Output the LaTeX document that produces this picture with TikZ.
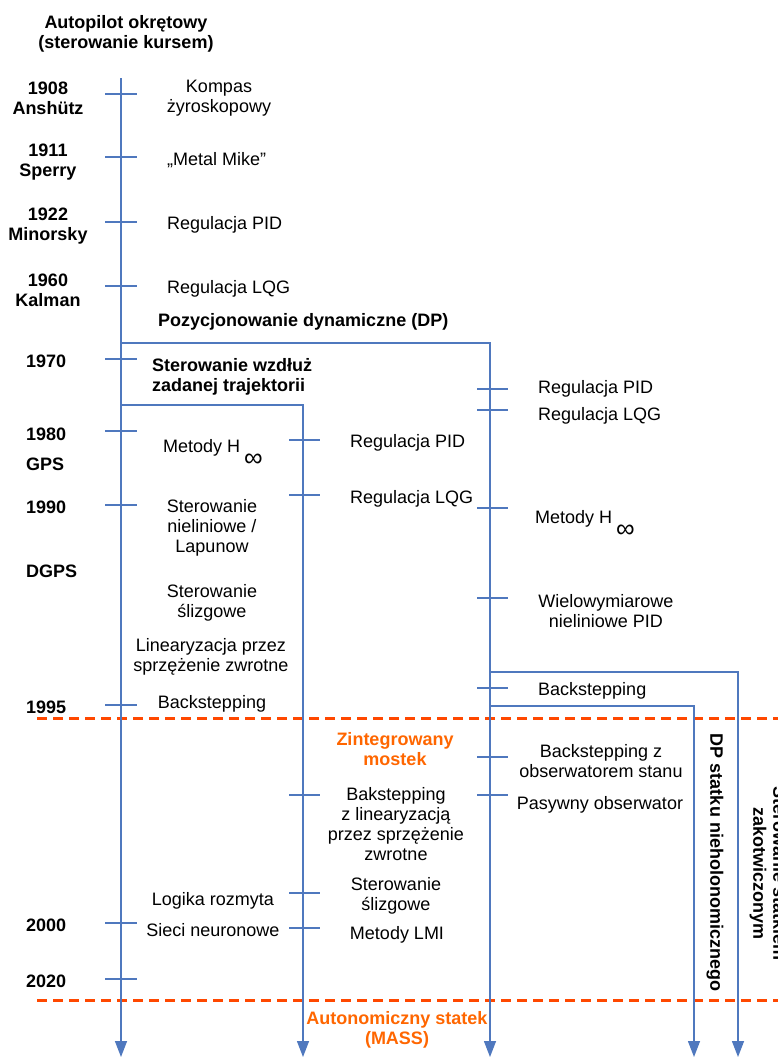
\documentclass[tikz,border=0pt]{standalone}
\usepackage{fontspec}
\setmainfont{Liberation Sans}
\usetikzlibrary{arrows.meta}
\definecolor{axis}{RGB}{79,120,190}
\definecolor{eraline}{RGB}{255,72,0}
\definecolor{eratext}{RGB}{255,102,0}
\tikzset{
  lbl/.style={font=\fontsize{18}{20}\selectfont, inner sep=0pt, align=center, yshift=-1.5pt},
  hdr/.style={font=\fontsize{18}{20}\selectfont\bfseries, inner sep=0pt, align=center, yshift=-1.5pt},
  era/.style={hdr, text=eratext},
  axisline/.style={draw=axis, line width=1.4pt},
  timeline/.style={axisline, -{Triangle[width=12pt,length=16pt]}},
  tickmark/.style={draw=axis, line width=1.4pt},
  epochsep/.style={draw=eraline, line width=3pt, dash pattern=on 10pt off 6pt},
}
% H with a large, lowered infinity sign
\newcommand{\hinf}{H\hspace{4pt}\raisebox{-14pt}{\scalebox{1.45}{∞}}}
\begin{document}
\begin{tikzpicture}[x=1pt,y=-1pt]
\useasboundingbox (0,0) rectangle (778,1057);

% ---- branching points of the timelines
\coordinate (headA) at (121,78);
\coordinate (endA)  at (121,1057);
\coordinate (forkDP) at (121,343);
\coordinate (cornDP) at (490,343);
\coordinate (endDP)  at (490,1057);
\coordinate (forkTR) at (121,405);
\coordinate (cornTR) at (303,405);
\coordinate (endTR)  at (303,1057);
\coordinate (forkAN) at (490,672);
\coordinate (cornAN) at (738,672);
\coordinate (endAN)  at (738,1057);
\coordinate (forkNH) at (490,706);
\coordinate (cornNH) at (694,706);
\coordinate (endNH)  at (694,1057);

% ---- epoch separators
\coordinate (sepAl) at (37,718);
\coordinate (sepAr) at (778,718);
\coordinate (sepBl) at (37,1000);
\coordinate (sepBr) at (778,1000);
\draw[epochsep] (sepAl) -- (sepAr);
\draw[epochsep] (sepBl) -- (sepBr);

% ---- timelines
\draw[timeline] (headA) -- (endA);
\draw[timeline] (forkDP) -- (cornDP) -- (endDP);
\draw[timeline] (forkTR) -- (cornTR) -- (endTR);
\draw[timeline] (forkAN) -- (cornAN) -- (endAN);
\draw[timeline] (forkNH) -- (cornNH) -- (endNH);

% ---- tick marks
\foreach \y in {94,157,222,286,359,431,505,705,923,979}
  \draw[tickmark] (105,\y) -- (137,\y);
\foreach \y in {440,495,795,893,928}
  \draw[tickmark] (289,\y) -- (320,\y);
\foreach \y in {389,410,508,598,688,757,795}
  \draw[tickmark] (477,\y) -- (508,\y);

% ---- title
\node[hdr] (title) at (126,32) {Autopilot okrętowy\\(sterowanie kursem)};

% ---- years and milestones
\node[hdr] (y1908) at (48,97)  {1908\\Anshütz};
\node[hdr] (y1911) at (48,161) {1911\\Sperry};
\node[hdr] (y1922) at (48,225) {1922\\Minorsky};
\node[hdr] (y1960) at (48,289) {1960\\Kalman};
\node[hdr,anchor=west] (y1970) at (26,360) {1970};
\node[hdr,anchor=west] (y1980) at (26,433) {1980};
\node[hdr,anchor=west] (gps)   at (26,463) {GPS};
\node[hdr,anchor=west] (y1990) at (26,506) {1990};
\node[hdr,anchor=west] (dgps)  at (26,570) {DGPS};
\node[hdr,anchor=west] (y1995) at (26,706) {1995};
\node[hdr,anchor=west] (y2000) at (26,924) {2000};
\node[hdr,anchor=west] (y2020) at (26,980) {2020};

% ---- course control (first timeline)
\node[lbl] (kompas) at (219,97) {Kompas\\żyroskopowy};
\node[lbl,anchor=west] (mike) at (167,159) {„Metal Mike”};
\node[lbl,anchor=west] (pidA) at (167,223) {Regulacja PID};
\node[lbl,anchor=west] (lqgA) at (167,287) {Regulacja LQG};
\node[hdr,anchor=west] (dp) at (158,320) {Pozycjonowanie dynamiczne (DP)};
\node[hdr,anchor=west,align=left] (traj) at (152,375) {Sterowanie wzdłuż\\zadanej trajektorii};
\node[lbl,anchor=base west] (hinfA) at (163,450.5) {Metody \hinf};
\node[lbl] (nonlin) at (212,526) {Sterowanie\\nieliniowe /\\Lapunow};
\node[lbl] (slideA) at (212,601) {Sterowanie\\ślizgowe};
\node[lbl] (fblin) at (211,655) {Linearyzacja przez\\sprzężenie zwrotne};
\node[lbl] (backA) at (212,702) {Backstepping};
\node[lbl] (fuzzy) at (213,899) {Logika rozmyta};
\node[lbl] (neural) at (213,929) {Sieci neuronowe};

% ---- path following
\node[lbl,anchor=west] (pidT) at (350,441) {Regulacja PID};
\node[lbl,anchor=west] (lqgT) at (350,497) {Regulacja LQG};
\node[lbl] (bakT) at (396,823) {Bakstepping\\z linearyzacją\\przez sprzężenie\\zwrotne};
\node[lbl] (slideT) at (396,894) {Sterowanie\\ślizgowe};
\node[lbl] (lmi) at (397,933) {Metody LMI};

% ---- dynamic positioning
\node[lbl,anchor=west] (pidD) at (538,387) {Regulacja PID};
\node[lbl,anchor=west] (lqgD) at (538,414) {Regulacja LQG};
\node[lbl,anchor=base west] (hinfD) at (535,521.5) {Metody \hinf};
\node[lbl] (mimo) at (606,610) {Wielowymiarowe\\nieliniowe PID};
\node[lbl,anchor=west] (backD) at (538,689) {Backstepping};
\node[lbl] (backobs) at (601,760) {Backstepping z\\obserwatorem stanu};
\node[lbl] (passive) at (600,803) {Pasywny obserwator};

% ---- later branches
\node[hdr,rotate=-90] (nonhol) at (715,861) {DP statku nieholonomicznego};
\node[hdr,rotate=-90] (moored) at (768,872) {Sterowanie statkiem\\zakotwiczonym};

% ---- epochs
\node[era] (bridge) at (395,748) {Zintegrowany\\mostek};
\node[era] (mass) at (397,1028) {Autonomiczny statek\\(MASS)};
\end{tikzpicture}
\end{document}
